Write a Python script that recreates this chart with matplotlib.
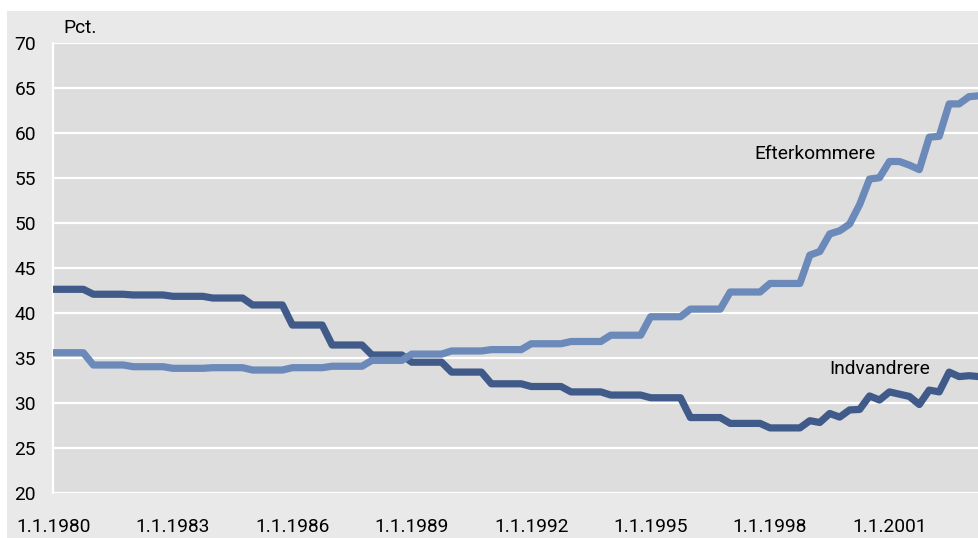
import matplotlib
matplotlib.use("Agg")
import matplotlib.pyplot as plt
import numpy as np
from matplotlib.patches import Rectangle

plt.rcParams['font.family'] = ['Roboto', 'DejaVu Sans']

# Quarterly values, 1980Q1 .. 2003Q2 (pct.)
indvandrere = [
    42.6, 42.6, 42.6, 42.6,      # 1980
    42.05, 42.05, 42.05, 42.05,  # 1981
    41.97, 41.97, 41.97, 41.97,  # 1982
    41.82, 41.82, 41.82, 41.82,  # 1983
    41.63, 41.63, 41.63, 41.63,  # 1984
    40.86, 40.86, 40.86, 40.86,  # 1985
    38.63, 38.63, 38.63, 38.63,  # 1986
    36.41, 36.41, 36.41, 36.41,  # 1987
    35.3, 35.3, 35.3, 35.3,      # 1988
    34.5, 34.5, 34.5, 34.5,      # 1989
    33.4, 33.4, 33.4, 33.4,      # 1990
    32.1, 32.1, 32.1, 32.1,      # 1991
    31.8, 31.8, 31.8, 31.8,      # 1992
    31.2, 31.2, 31.2, 31.2,      # 1993
    30.85, 30.85, 30.85, 30.85,  # 1994
    30.55, 30.55, 30.55, 30.55,  # 1995
    28.35, 28.35, 28.35, 28.35,  # 1996
    27.7, 27.7, 27.7, 27.7,      # 1997
    27.2, 27.2, 27.2, 27.2,      # 1998
    28.0, 27.8, 28.8, 28.4,      # 1999
    29.2, 29.25, 30.75, 30.3,    # 2000
    31.2, 30.95, 30.7, 29.8,     # 2001
    31.4, 31.2, 33.4, 32.9,      # 2002
    33.0, 32.9,                  # 2003
]

efterkommere = [
    35.55, 35.55, 35.55, 35.55,  # 1980
    34.19, 34.19, 34.19, 34.19,  # 1981
    34.0, 34.0, 34.0, 34.0,      # 1982
    33.82, 33.82, 33.82, 33.82,  # 1983
    33.89, 33.89, 33.89, 33.89,  # 1984
    33.63, 33.63, 33.63, 33.63,  # 1985
    33.89, 33.89, 33.89, 33.89,  # 1986
    34.05, 34.05, 34.05, 34.05,  # 1987
    34.7, 34.7, 34.7, 34.7,      # 1988
    35.4, 35.4, 35.4, 35.4,      # 1989
    35.75, 35.75, 35.75, 35.75,  # 1990
    35.9, 35.9, 35.9, 35.9,      # 1991
    36.55, 36.55, 36.55, 36.55,  # 1992
    36.8, 36.8, 36.8, 36.8,      # 1993
    37.5, 37.5, 37.5, 37.5,      # 1994
    39.55, 39.55, 39.55, 39.55,  # 1995
    40.4, 40.4, 40.4, 40.4,      # 1996
    42.3, 42.3, 42.3, 42.3,      # 1997
    43.25, 43.25, 43.25, 43.25,  # 1998
    46.4, 46.8, 48.75, 49.1,     # 1999
    49.85, 52.0, 54.85, 55.0,    # 2000
    56.8, 56.8, 56.4, 55.9,      # 2001
    59.5, 59.6, 63.2, 63.2,      # 2002
    64.0, 64.1,                  # 2003
]

tick_years = [1980, 1983, 1986, 1989, 1992, 1995, 1998, 2001]
tick_labels = ["1.1.%d" % y for y in tick_years]
y_ticks = [20, 25, 30, 35, 40, 45, 50, 55, 60, 65, 70]

x = 1980 + np.arange(len(indvandrere)) / 4.0

W, H = 979, 538
fig = plt.figure(figsize=(W / 100, H / 100), dpi=100, facecolor='white')
bg = Rectangle((7.5 / W, 0), 1, (H - 11) / H, transform=fig.transFigure,
               facecolor='#e9e9e9', edgecolor='none', zorder=-10)
fig.add_artist(bg)

ax = fig.add_axes([53.5 / W, (H - 492.7) / H, 1 - 53.5 / W, 450 / H])
ax.set_zorder(1)
ax.set_facecolor('#dddddd')
for s in ['top', 'right', 'bottom']:
    ax.spines[s].set_visible(False)
ax.spines['left'].set_color('white')
ax.spines['left'].set_linewidth(1.6)

ax.set_ylim(20, 70)
ax.set_yticks(y_ticks)
ax.set_xlim(1980, 2003.25)
ax.set_xticks(tick_years)
ax.set_xticklabels(tick_labels)
ax.yaxis.grid(True, color='white', linewidth=1.6)
ax.set_axisbelow(True)
ax.tick_params(axis='both', length=0, labelsize=13.8, colors='black')
ax.tick_params(axis='y', pad=12.6)
ax.tick_params(axis='x', pad=18.3)

ax.plot(x, indvandrere, color='#405a89', linewidth=5.2, zorder=3)
ax.plot(x, efterkommere, color='#6b89b9', linewidth=5.2, zorder=4)

ax.text(1997.6, 57.6, "Efterkommere", fontsize=13.8, ha='left', va='center', zorder=5)
ax.text(1999.48, 33.7, "Indvandrere", fontsize=13.8, ha='left', va='center', zorder=5)

fig.text(63 / W, 1 - 33 / H, "Pct.", fontsize=13.8, ha='left', va='baseline', zorder=2)

fig.savefig("out.png", dpi=100)
